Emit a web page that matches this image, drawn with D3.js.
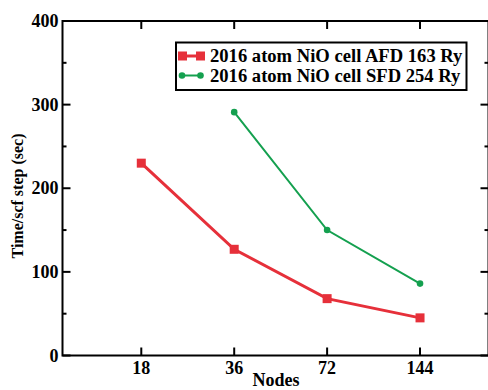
<!DOCTYPE html>
<html><head><meta charset="utf-8">
<script src="https://cdn.jsdelivr.net/npm/d3@7"></script>
<style>
html,body{margin:0;padding:0;background:#fff;}
svg{display:block;}
text{font-family:"Liberation Serif","Times New Roman",serif;font-weight:bold;fill:#000;}
</style></head>
<body>
<svg id="chart" width="488" height="390"></svg>
<script>
// Data
const nodes = [18, 36, 72, 144];
const afdNodes = [18, 36, 72, 144];
const afdTime = [230, 127, 68, 45];
const sfdNodes = [36, 72, 144];
const sfdTime = [291, 150, 86];
const yMajorTicks = [0, 100, 200, 300, 400];
const yMinorTicks = [50, 150, 250, 350];
const seriesNames = ["2016 atom NiO cell AFD 163 Ry", "2016 atom NiO cell SFD 254 Ry"];
const seriesColors = ["#e6303a", "#14a04f"];

const svg = d3.select("#chart");
const L = 62.5, R = 488.5, T = 21, B = 355.5;
const x = d3.scaleLog().base(2).domain([10, 240]).range([L, R]);
const y = d3.scaleLinear().domain([0, 400]).range([B, T]);

// Frame
svg.append("rect").attr("x", L).attr("y", T).attr("width", R - L).attr("height", B - T)
  .attr("fill", "none").attr("stroke", "#000").attr("stroke-width", 2);

const tickG = svg.append("g").attr("stroke", "#000").attr("stroke-width", 2);
// bottom & top major ticks
nodes.forEach(n => {
  tickG.append("line").attr("x1", x(n)).attr("x2", x(n)).attr("y1", B).attr("y2", B - 8);
  tickG.append("line").attr("x1", x(n)).attr("x2", x(n)).attr("y1", T).attr("y2", T + 8);
});
// left & right ticks
yMajorTicks.forEach(v => {
  tickG.append("line").attr("x1", L).attr("x2", L + 8).attr("y1", y(v)).attr("y2", y(v));
  tickG.append("line").attr("x1", R).attr("x2", R - 8).attr("y1", y(v)).attr("y2", y(v));
});
yMinorTicks.forEach(v => {
  tickG.append("line").attr("x1", L).attr("x2", L + 4).attr("y1", y(v)).attr("y2", y(v));
  tickG.append("line").attr("x1", R).attr("x2", R - 4).attr("y1", y(v)).attr("y2", y(v));
});

// tick labels
svg.append("g").selectAll("text").data(nodes).join("text")
  .attr("x", d => x(d)).attr("y", 373.5).attr("text-anchor", "middle")
  .attr("font-size", 18).text(d => d);
svg.append("g").selectAll("text").data(yMajorTicks).join("text")
  .attr("x", 58.5).attr("y", d => y(d) + 6).attr("text-anchor", "end")
  .attr("font-size", 18).text(d => d);

// axis titles
svg.append("text").attr("x", 276).attr("y", 386).attr("text-anchor", "middle")
  .attr("font-size", 18).text("Nodes");
svg.append("text").attr("transform", "translate(23,196) rotate(-90)")
  .attr("text-anchor", "middle").attr("font-size", 16).text("Time/scf step (sec)");

// series
const line = d3.line().x(d => x(d[0])).y(d => y(d[1]));
const afd = afdNodes.map((n, i) => [n, afdTime[i]]);
const sfd = sfdNodes.map((n, i) => [n, sfdTime[i]]);

svg.append("path").datum(sfd).attr("d", line).attr("fill", "none")
  .attr("stroke", seriesColors[1]).attr("stroke-width", 2);
svg.append("g").selectAll("circle").data(sfd).join("circle")
  .attr("cx", d => x(d[0])).attr("cy", d => y(d[1])).attr("r", 3.3)
  .attr("fill", seriesColors[1]);

svg.append("path").datum(afd).attr("d", line).attr("fill", "none")
  .attr("stroke", seriesColors[0]).attr("stroke-width", 3);
svg.append("g").selectAll("rect").data(afd).join("rect")
  .attr("x", d => x(d[0]) - 4.5).attr("y", d => y(d[1]) - 4.5)
  .attr("width", 9).attr("height", 9).attr("fill", seriesColors[0]);

// legend
const lg = svg.append("g");
lg.append("rect").attr("x", 176).attr("y", 42.5).attr("width", 290.5).attr("height", 47.5)
  .attr("fill", "#fff").attr("stroke", "#000").attr("stroke-width", 2);
const rows = [56, 75.5];
// AFD row
lg.append("line").attr("x1", 182.5).attr("x2", 200.5).attr("y1", rows[0]).attr("y2", rows[0])
  .attr("stroke", seriesColors[0]).attr("stroke-width", 3);
[182.5, 200.5].forEach(cx => lg.append("rect").attr("x", cx - 4.5).attr("y", rows[0] - 4.5)
  .attr("width", 9).attr("height", 9).attr("fill", seriesColors[0]));
// SFD row
lg.append("line").attr("x1", 182).attr("x2", 200.5).attr("y1", rows[1]).attr("y2", rows[1])
  .attr("stroke", seriesColors[1]).attr("stroke-width", 2);
[182, 200.5].forEach(cx => lg.append("circle").attr("cx", cx).attr("cy", rows[1]).attr("r", 3.3)
  .attr("fill", seriesColors[1]));
seriesNames.forEach((s, i) => lg.append("text").attr("x", 210).attr("y", rows[i] + 6)
  .attr("font-size", 18.6).text(s));
</script>
</body></html>
